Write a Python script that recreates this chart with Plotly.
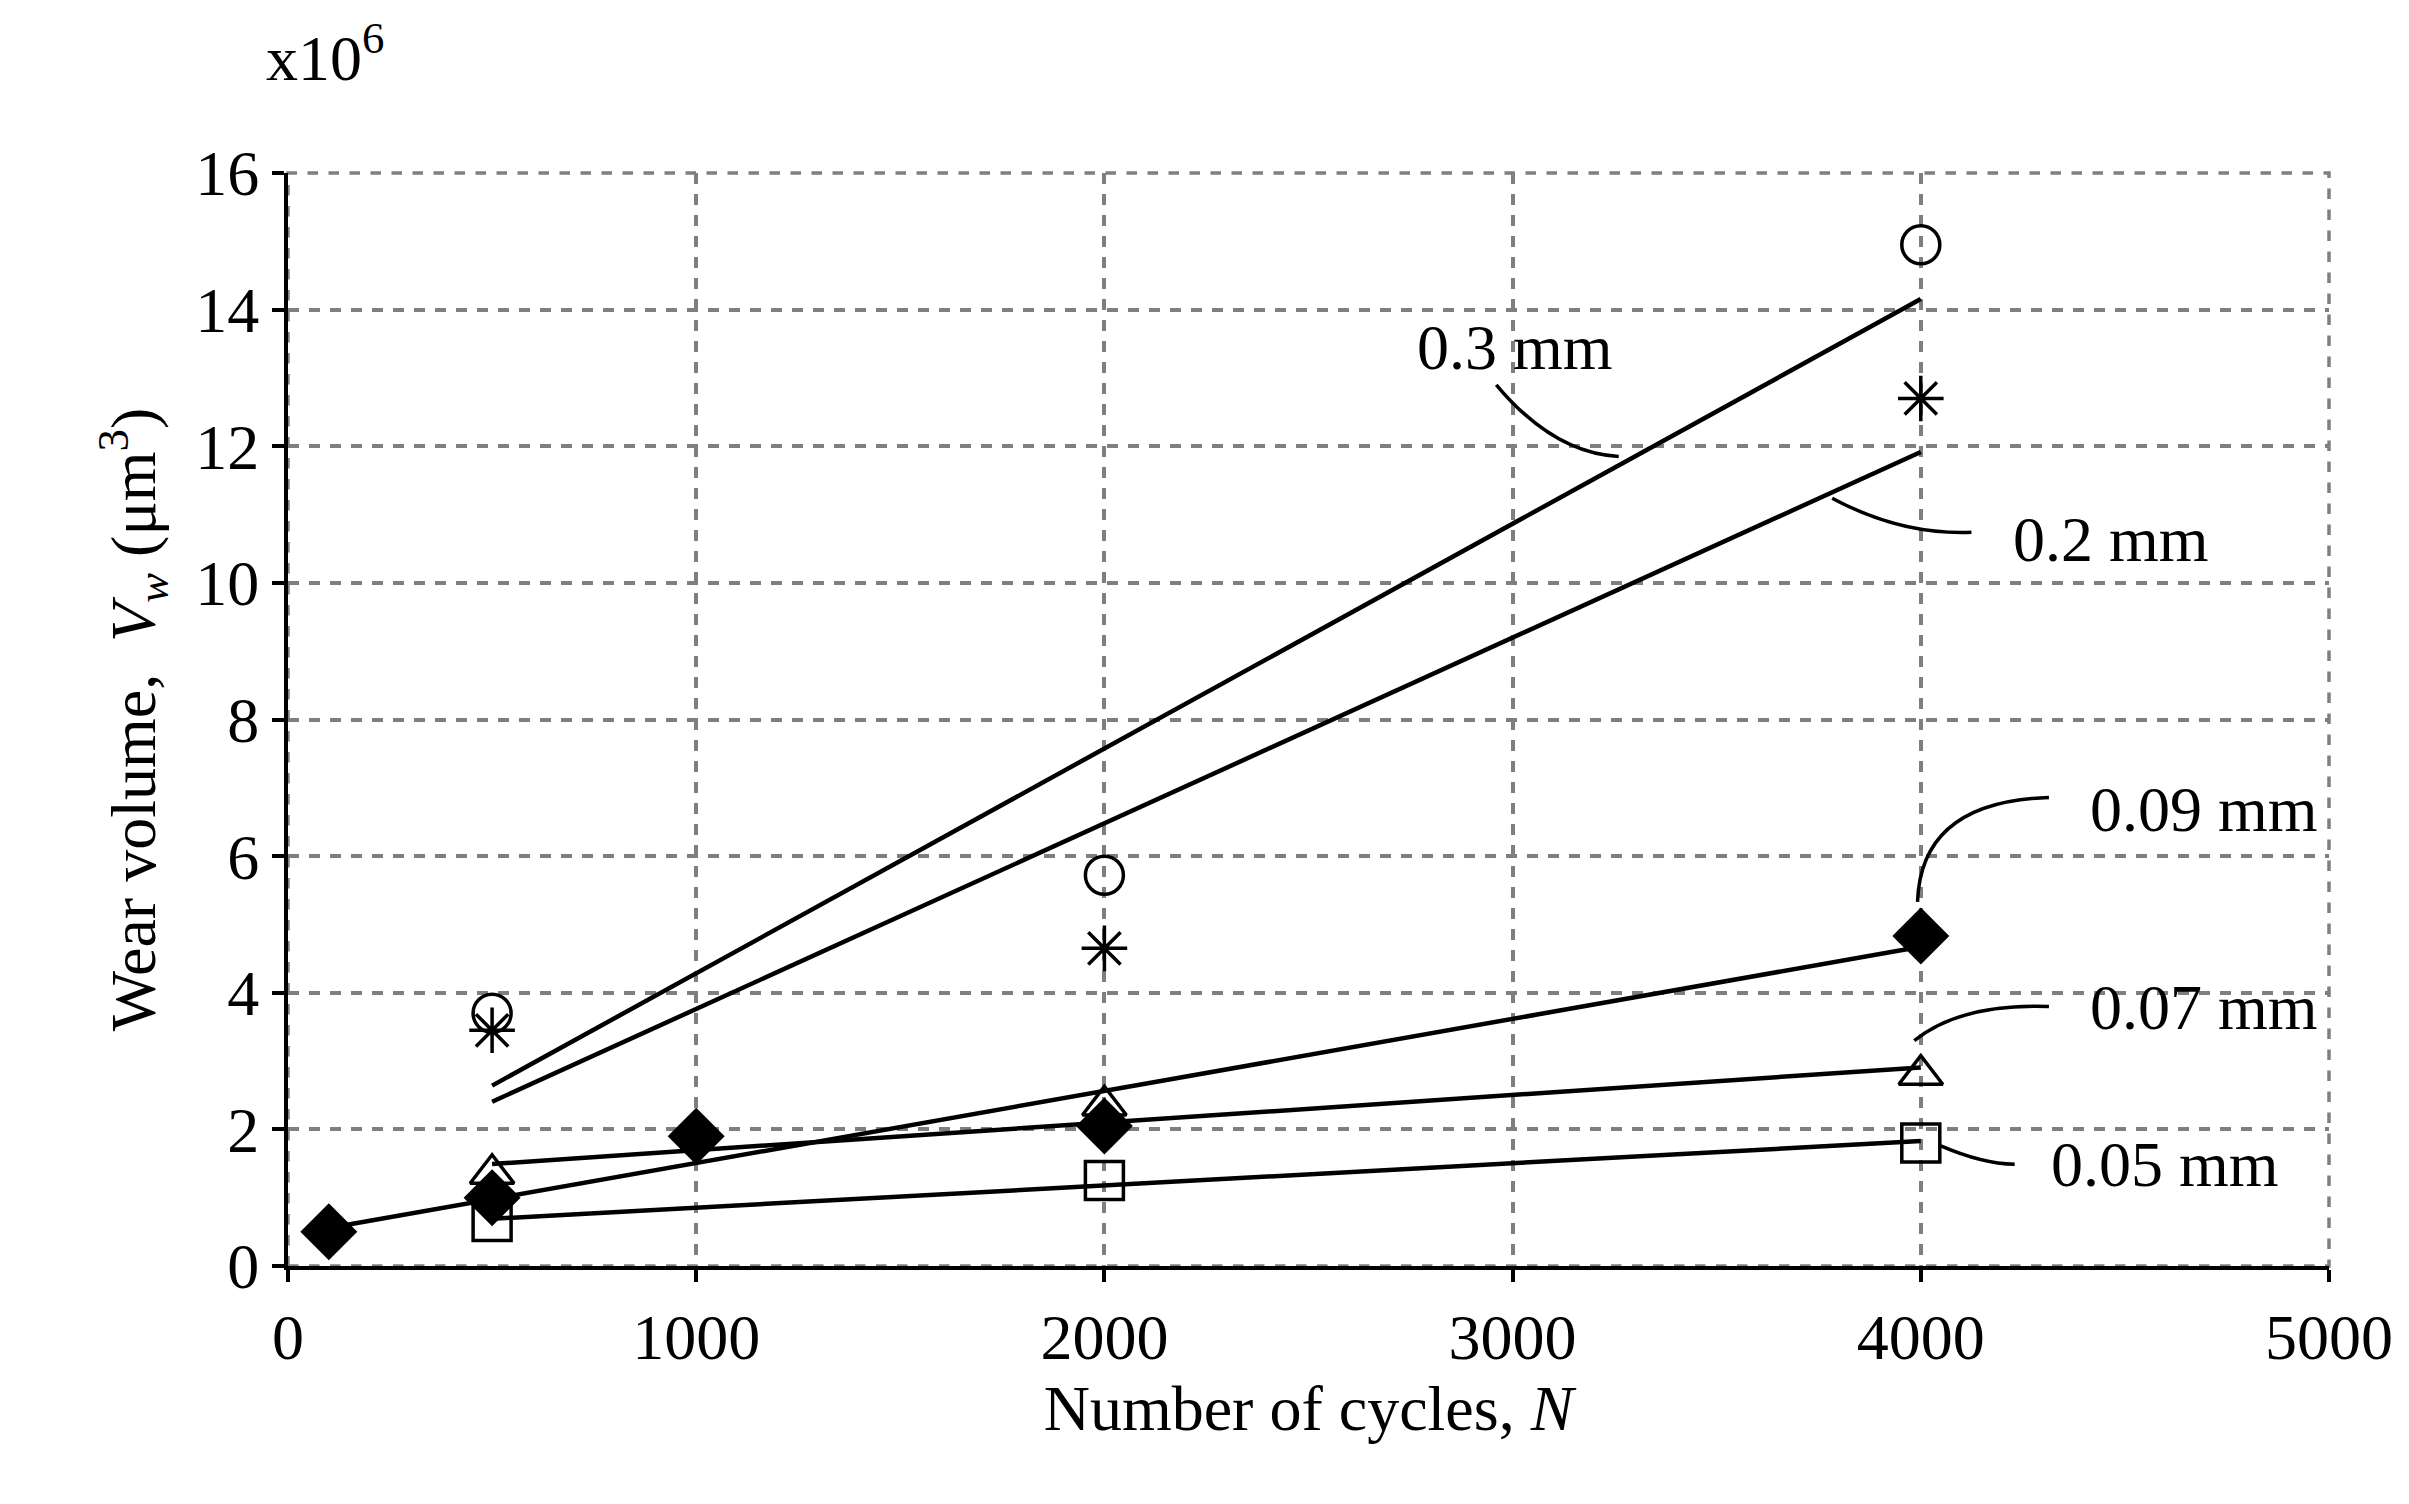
import numpy as np
import plotly.graph_objects as go

N03 = [500, 2000, 4000]; V03 = [3.7, 5.72, 14.95]
N02 = [500, 2000, 4000]; V02 = [3.45, 4.65, 12.7]
N009 = [100, 500, 1000, 2000, 4000]; V009 = [0.5, 1.0, 1.9, 2.05, 4.83]
N007 = [500, 2000, 4000]; V007 = [1.35, 2.35, 2.8]
N005 = [500, 2000, 4000]; V005 = [0.65, 1.25, 1.8]

series = [
    (N03, V03, "circle-open", "0.3 mm"),
    (N02, V02, "asterisk-open", "0.2 mm"),
    (N009, V009, "diamond", "0.09 mm"),
    (N007, V007, "triangle-up-open", "0.07 mm"),
    (N005, V005, "square-open", "0.05 mm"),
]

fig = go.Figure()
for xs, ys, sym, name in series:
    m, c = np.polyfit(xs, ys, 1)
    xl = [min(xs), max(xs)]
    fig.add_trace(go.Scatter(x=xl, y=[m * v + c for v in xl], mode="lines",
                             line=dict(color="black", width=4.5), showlegend=False))
    fig.add_trace(go.Scatter(x=xs, y=ys, mode="markers", showlegend=False,
                             marker=dict(symbol=sym, size=38 if sym != "diamond" else 40, color="black",
                                         line=dict(color="black", width=3.5))))

font = dict(family="Liberation Serif", size=64, color="black")
labels = [("0.3 mm", 3006, 13.45, "M 3260 11.85 Q 3100 11.9 2960 12.9"),
          ("0.2 mm", 4466, 10.63, "M 3783 11.24 Q 3950 10.7 4124 10.74"),
          ("0.09 mm", 4693, 6.68, "M 3992 5.33 Q 4000 6.8 4314 6.86"),
          ("0.07 mm", 4693, 3.79, "M 3984 3.3 Q 4100 3.85 4314 3.8"),
          ("0.05 mm", 4598, 1.49, "M 4049 1.76 Q 4150 1.5 4230 1.49")]
for t, x, y, p in labels:
    fig.add_annotation(x=x, y=y, text=t, showarrow=False, font=font)
    fig.add_shape(type="path", path=p, xref="x", yref="y", line=dict(color="black", width=3.5))

fig.add_annotation(x=-0.012, y=1.07, xref="paper", yref="paper", xanchor="left", yanchor="bottom",
                   text="x10<sup>6</sup>", showarrow=False, font=font)

ax = dict(showline=True, linecolor="black", linewidth=4, ticks="outside", ticklen=12,
          tickwidth=4, tickcolor="black", showgrid=True, gridcolor="#7f7f7f", griddash="dash",
          gridwidth=3.5, zeroline=False, tickfont=font)
fig.update_xaxes(range=[0, 5000], dtick=1000, title=dict(text="Number of cycles, <i>N</i>", font=font, standoff=8), **ax)
fig.update_yaxes(range=[0, 16], dtick=2, title=dict(text="Wear volume,  <i>V<sub>w</sub></i> (μm<sup>3</sup>)", font=font, standoff=20), **ax)
fig.add_shape(type="rect", xref="paper", yref="paper", x0=0, y0=0, x1=1, y1=1,
              line=dict(color="#7f7f7f", width=3.5, dash="dash"), layer="below")
fig.update_layout(width=2409, height=1504, plot_bgcolor="white", paper_bgcolor="white",
                  margin=dict(l=280, r=88, t=165, b=246))
fig.write_html("out.html")
